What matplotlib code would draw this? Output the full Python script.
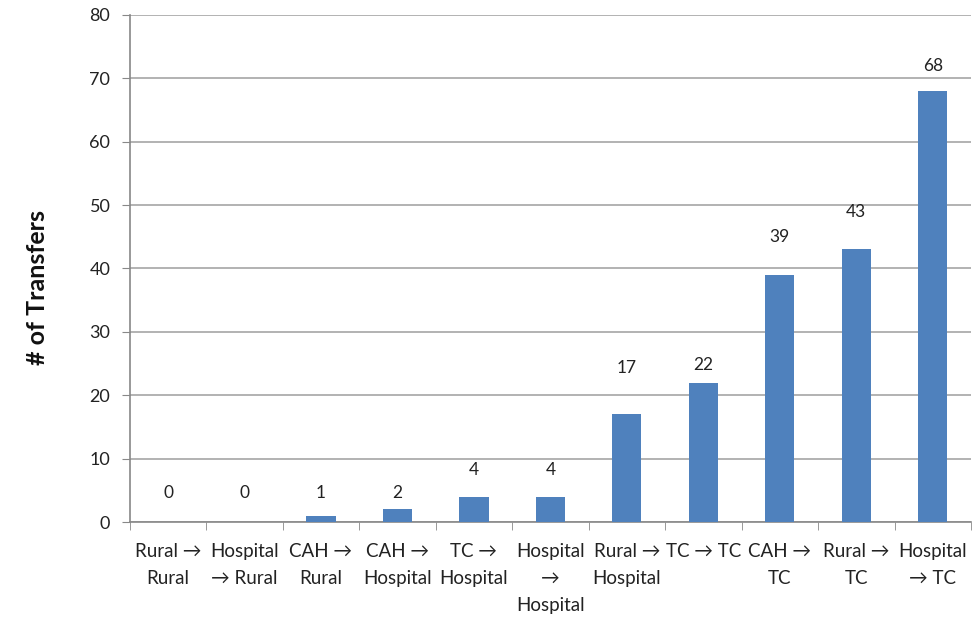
import matplotlib.pyplot as plt

plt.rcParams['font.family'] = ['Lato', 'DejaVu Sans']

categories = ["Rural →\nRural", "Hospital\n→ Rural", "CAH →\nRural", "CAH →\nHospital",
              "TC →\nHospital", "Hospital\n→\nHospital", "Rural →\nHospital", "TC → TC",
              "CAH →\nTC", "Rural →\nTC", "Hospital\n→ TC"]
transfers = [0, 0, 1, 2, 4, 4, 17, 22, 39, 43, 68]
label_offsets = [21, 21, 16, 12, 19, 19, 33, 13, 27, 27, 18]  # points above bar top

fig = plt.figure(figsize=(9.76, 6.2), dpi=100)
ax = fig.add_axes([0.133, 0.158, 0.862, 0.818])

x = range(len(categories))
ax.bar(x, transfers, width=0.38, color="#4F81BD", zorder=3)

for i, v in enumerate(transfers):
    ax.annotate(str(v), (i, v), xytext=(0, label_offsets[i]), textcoords="offset points",
                ha="center", va="center", fontsize=12.5, color="#222222")

ax.set_xlim(-0.5, len(categories) - 0.5)
ax.set_ylim(0, 80)
ax.set_yticks(range(0, 81, 10))
ax.yaxis.grid(True, color="#A6A6A6", linewidth=1.2, zorder=0)

ax.set_xticks(list(x))
ax.set_xticklabels(categories, fontsize=13.5, linespacing=1.72, color="#222222")
ax.set_xticks([k - 0.5 for k in range(len(categories) + 1)], minor=True)
ax.tick_params(axis="x", which="major", length=0, pad=15)
ax.tick_params(axis="x", which="minor", length=6, color="#888888", direction="out")
ax.tick_params(axis="y", length=6, pad=8, color="#888888", labelsize=13, labelcolor="#222222")

for side in ["top", "right"]:
    ax.spines[side].set_visible(False)
for side in ["left", "bottom"]:
    ax.spines[side].set_color("#888888")
    ax.spines[side].set_linewidth(1.2)

fig.text(0.038, 0.537, "# of Transfers", rotation=90, ha="center", va="center",
         fontsize=18, fontweight="bold", color="#111111")

fig.savefig("out.png", dpi=100)
